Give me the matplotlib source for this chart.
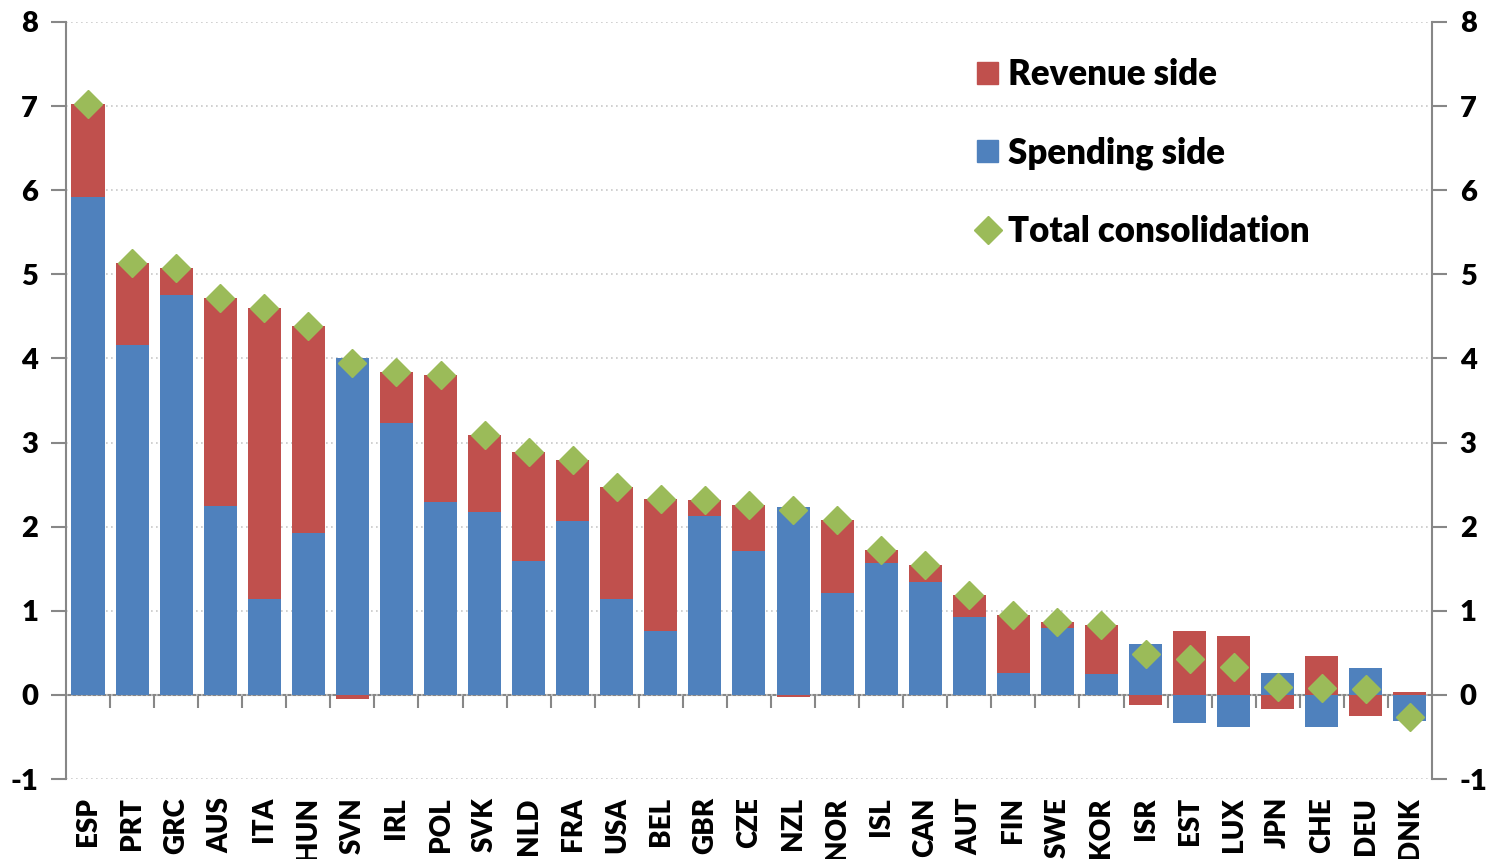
import numpy as np
import matplotlib
matplotlib.use("Agg")
import matplotlib.pyplot as plt
from matplotlib.lines import Line2D
from matplotlib.patches import Patch

countries = ["ESP", "PRT", "GRC", "AUS", "ITA", "HUN", "SVN", "IRL", "POL", "SVK",
             "NLD", "FRA", "USA", "BEL", "GBR", "CZE", "NZL", "NOR", "ISL", "CAN",
             "AUT", "FIN", "SWE", "KOR", "ISR", "EST", "LUX", "JPN", "CHE", "DEU", "DNK"]
spending = [5.92, 4.16, 4.76, 2.25, 1.14, 1.93, 4.00, 3.23, 2.29, 2.18,
            1.59, 2.07, 1.14, 0.76, 2.13, 1.71, 2.23, 1.21, 1.57, 1.34,
            0.93, 0.26, 0.79, 0.25, 0.61, -0.33, -0.38, 0.26, -0.38, 0.32, -0.31]
revenue = [1.11, 0.98, 0.31, 2.47, 3.46, 2.45, -0.05, 0.61, 1.51, 0.91,
           1.30, 0.72, 1.33, 1.57, 0.19, 0.55, -0.03, 0.87, 0.15, 0.21,
           0.26, 0.69, 0.08, 0.58, -0.12, 0.76, 0.70, -0.17, 0.46, -0.25, 0.04]
total = [7.03, 5.14, 5.07, 4.72, 4.60, 4.38, 3.95, 3.84, 3.80, 3.09,
         2.89, 2.79, 2.47, 2.33, 2.32, 2.26, 2.20, 2.08, 1.72, 1.55,
         1.19, 0.95, 0.87, 0.83, 0.49, 0.43, 0.33, 0.09, 0.08, 0.07, -0.26]

blue = "#4F81BD"
red = "#C0504D"
green = "#9BBB59"
axis_grey = "#878787"
font = "Lato"
weight = "heavy"

plt.rcParams["axes.unicode_minus"] = False

spending = np.array(spending)
revenue = np.array(revenue)
x = np.arange(len(countries))

fig = plt.figure(figsize=(14.89, 8.59), dpi=100)
ax = fig.add_axes([0.0443, 0.0931, 0.9174, 0.8813])

# excel-style stacking: positives stack up, negatives stack down
rev_bottom = np.where((revenue >= 0) == (spending >= 0), spending, 0.0)
ax.bar(x, spending, width=0.75, color=blue, zorder=2)
ax.bar(x, revenue, width=0.75, bottom=rev_bottom, color=red, zorder=2)
ax.plot(x, total, linestyle="none", marker="D", markersize=14.5,
        color=green, zorder=3)

ax.set_xlim(-0.5, len(countries) - 0.5)
ax.set_ylim(-1, 8)
ax.set_yticks(range(-1, 9))
ax.grid(axis="y", color="#c8c8c8", linestyle=(0, (1, 2)), linewidth=1.2, zorder=0)

for side in ["top", "bottom"]:
    ax.spines[side].set_visible(False)
for side in ["left", "right"]:
    ax.spines[side].set_color(axis_grey)
    ax.spines[side].set_linewidth(1.5)

ax.tick_params(axis="y", left=True, right=True, labelleft=True,
               labelright=True, length=11, width=1.5, color=axis_grey, pad=9)
ax.set_xticks(x)
ax.set_xticklabels(countries, rotation=90)
ax.tick_params(axis="x", length=0, pad=13)
for lab in ax.get_xticklabels():
    lab.set_fontfamily(font)
    lab.set_fontweight(weight)
    lab.set_fontsize(20)
for t in ax.yaxis.get_major_ticks():
    for lab in (t.label1, t.label2):
        lab.set_fontfamily(font)
        lab.set_fontweight(weight)
        lab.set_fontsize(21)

# zero line with category separator ticks
ax.axhline(0, color=axis_grey, linewidth=1.5, zorder=1)
sec = ax.secondary_xaxis(1 / 9)
sec.set_xticks(np.arange(0.5, len(countries) - 0.5, 1.0))
sec.tick_params(length=9, width=1.5, color=axis_grey, labelbottom=False)
sec.spines["bottom"].set_visible(False)

handles = [Patch(color=red, label="Revenue side"),
           Patch(color=blue, label="Spending side"),
           Line2D([], [], linestyle="none", marker="D", markersize=14,
                  color=green, label="Total consolidation")]
ax.legend(handles=handles, loc="upper left", bbox_to_anchor=(0.667, 0.952),
          frameon=False, prop={"family": font, "weight": weight, "size": 25},
          handlelength=0.6, handleheight=0.6, handletextpad=0.3,
          labelspacing=1.3, borderpad=0, borderaxespad=0)

fig.savefig("out.png", dpi=100)
